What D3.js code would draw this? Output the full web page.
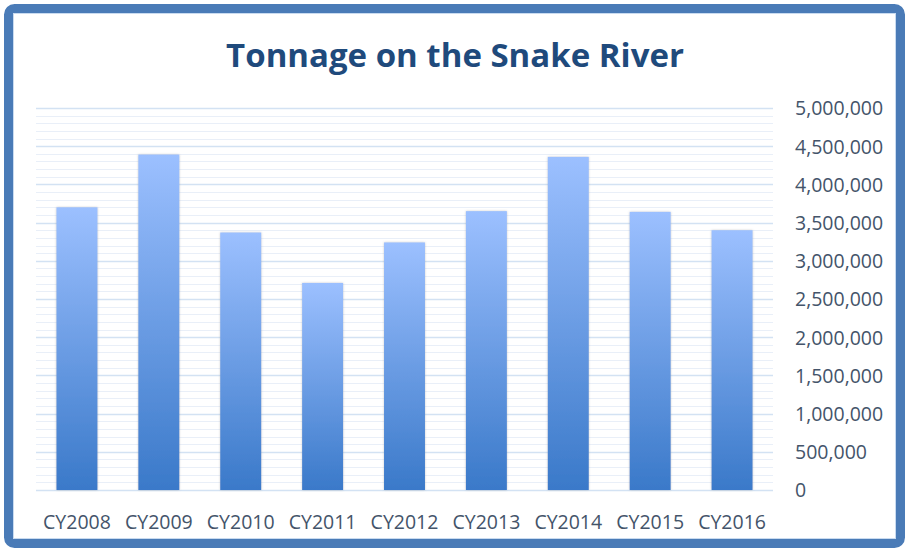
<!DOCTYPE html>
<html><head><meta charset="utf-8">
<script src="https://cdn.jsdelivr.net/npm/d3@7"></script>
<style>html,body{margin:0;padding:0;background:#fff;}svg{display:block;}</style>
</head><body>
<svg id="c" width="909" height="550"></svg>
<script>
const categories = ["CY2008","CY2009","CY2010","CY2011","CY2012","CY2013","CY2014","CY2015","CY2016"];
const tonnage = [3700000,4390000,3370000,2710000,3240000,3650000,4360000,3640000,3400000];
const yTicks = [0,500000,1000000,1500000,2000000,2500000,3000000,3500000,4000000,4500000,5000000];
const minorTicks = d3.range(0, 5000001, 100000);
const title = "Tonnage on the Snake River";

const svg = d3.select("#c");
const W = 909, H = 550;
const m = {left:36, right:136, top:108, bottom:60};

// frame
svg.append("rect").attr("x",8.5).attr("y",8.5).attr("width",W-17).attr("height",H-15)
  .attr("rx",6).attr("fill","#fff").attr("stroke","#4a7bb7").attr("stroke-width",9);
svg.append("rect").attr("x",13.5).attr("y",13.5).attr("width",W-27).attr("height",H-25)
  .attr("fill","none").attr("stroke","#c9dbf0").attr("stroke-width",1);

const x = d3.scaleBand().domain(categories).range([m.left, W-m.right]).paddingInner(0.5).paddingOuter(0.25);
const y = d3.scaleLinear().domain([0,5000000]).range([H-m.bottom, m.top]);

const defs = svg.append("defs");
const grad = defs.append("linearGradient").attr("id","bg").attr("x1",0).attr("y1",0).attr("x2",0).attr("y2",1);
grad.append("stop").attr("offset","0%").attr("stop-color","#9cc0ff");
grad.append("stop").attr("offset","100%").attr("stop-color","#3a79c9");
const f = defs.append("filter").attr("id","sh").attr("x","-20%").attr("y","-5%").attr("width","140%").attr("height","110%");
f.append("feDropShadow").attr("dx",0).attr("dy",0).attr("stdDeviation",1.2).attr("flood-color","#888").attr("flood-opacity",0.45);

// grid
const g = svg.append("g");
g.selectAll("line.minor").data(minorTicks.filter(v=>v%500000!==0)).join("line")
  .attr("x1",m.left).attr("x2",W-m.right).attr("y1",d=>Math.round(y(d))+0.5).attr("y2",d=>Math.round(y(d))+0.5)
  .attr("stroke","#e9eff8").attr("stroke-width",1);
g.selectAll("line.major").data(yTicks).join("line")
  .attr("x1",m.left).attr("x2",W-m.right).attr("y1",d=>Math.round(y(d))+0.5).attr("y2",d=>Math.round(y(d))+0.5)
  .attr("stroke","#d3e2f3").attr("stroke-width",1.3);

// bars
svg.append("g").selectAll("rect").data(categories).join("rect")
  .attr("x",d=>x(d)).attr("width",x.bandwidth())
  .attr("y",(d,i)=>y(tonnage[i])).attr("height",(d,i)=>y(0)-y(tonnage[i]))
  .attr("fill","url(#bg)").attr("filter","url(#sh)");

// y axis (right)
const fmt = d3.format(",");
const yAxis = d3.axisRight(y).tickValues(yTicks).tickFormat(fmt).tickSize(0).tickPadding(0);
const ya = svg.append("g").attr("transform",`translate(795,0)`).call(yAxis);
ya.select(".domain").remove();
ya.selectAll("text").attr("font-family","Open Sans").attr("font-size",19.5).attr("fill","#44546a").attr("dy","0.35em");

// x axis
const xAxis = d3.axisBottom(x).tickSize(0).tickPadding(0);
const xa = svg.append("g").attr("transform",`translate(0,${H-m.bottom})`).call(xAxis);
xa.select(".domain").remove();
xa.selectAll("text").attr("font-family","Open Sans").attr("font-size",19.5).attr("fill","#44546a").attr("dy","0").attr("y",39);

// title
svg.append("text").attr("x",455).attr("y",67).attr("text-anchor","middle")
  .attr("font-family","Open Sans").attr("font-weight","bold").attr("font-size",33)
  .attr("fill","#1f4a7c").text(title);
</script>
</body></html>
